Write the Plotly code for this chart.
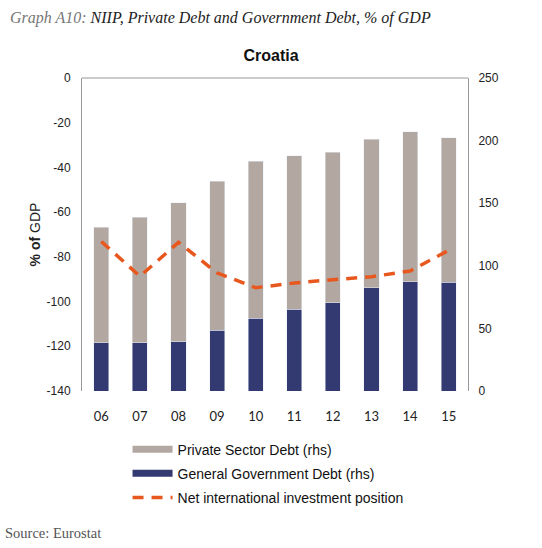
import plotly.graph_objects as go

years = ['06', '07', '08', '09', '10', '11', '12', '13', '14', '15']
gov_debt = [38.6, 38.6, 39.4, 48.7, 58.0, 65.2, 70.5, 82.3, 87.1, 86.8]
private_debt = [92.2, 100.1, 110.8, 118.8, 125.7, 122.8, 120.1, 118.7, 119.8, 115.3]
niip = [-73.1, -88.7, -73.5, -87.2, -93.8, -91.7, -90.2, -88.9, -86.3, -77.1]
left_ticks = [0, -20, -40, -60, -80, -100, -120, -140]
left_labels = ['0', '-20', '-40', '-60', '-80', '-100', '-120', '-140']

grey = '#B2A8A1'
navy = '#333A72'
orange = '#E8581E'
sans = 'Liberation Sans, Arial, sans-serif'
serif = 'Liberation Serif, Times New Roman, serif'

fig = go.Figure()

# stacked bars on the right-hand axis (primary y), line on the left axis overlaid on top
fig.add_trace(go.Bar(x=years, y=gov_debt, marker_color=navy, yaxis='y',
                     showlegend=False, name='General Government Debt (rhs)'))
fig.add_trace(go.Bar(x=years, y=private_debt, marker_color=grey, yaxis='y',
                     showlegend=False, name='Private Sector Debt (rhs)'))
fig.add_trace(go.Scatter(x=years, y=niip, mode='lines', yaxis='y2', showlegend=False,
                         line=dict(color=orange, width=3.5, dash='11px,8px'),
                         name='Net international investment position'))

# legend swatches
fig.add_trace(go.Scatter(x=[None], y=[None], mode='lines', name='Private Sector Debt (rhs)',
                         legendgroup='a', line=dict(color=grey, width=7)))
fig.add_trace(go.Scatter(x=[None], y=[None], mode='lines', name='General Government Debt (rhs)',
                         legendgroup='b', line=dict(color=navy, width=7)))
fig.add_trace(go.Scatter(x=[None], y=[None], mode='lines', name='Net international investment position',
                         legendgroup='c', line=dict(color=orange, width=3.5, dash='11px,8px')))

fig.update_layout(
    width=542, height=548,
    margin=dict(l=82, r=74, t=78, b=157),
    paper_bgcolor='white', plot_bgcolor='white',
    barmode='stack', bargap=0.61,
    font=dict(family=sans, size=12, color='#222222'),
    title=dict(text='<b>Croatia</b>', x=0.5, xanchor='center', y=1 - 55 / 548, yanchor='middle',
               font=dict(family=sans, size=16, color='#111111')),
    xaxis=dict(showline=False, showgrid=False, ticks='', automargin=False,
               tickfont=dict(family='Lato, Carlito, sans-serif', size=13), ticklabelstandoff=16),
    yaxis=dict(range=[0, 250], dtick=50, side='right', showgrid=False, zeroline=False,
               showline=True, linecolor='#999999', linewidth=1, ticks='', ticklabelstandoff=7,
               automargin=False),
    yaxis2=dict(range=[-140, 0], tickvals=left_ticks, ticktext=left_labels, overlaying='y', side='left',
                showgrid=False, zeroline=False, showline=True, linecolor='#999999', linewidth=1,
                ticks='', ticklabelstandoff=8, automargin=False,
                title=dict(text='<b>% of</b> GDP', font=dict(family=sans, size=14), standoff=2)),
    legend=dict(orientation='v', x=0.118, y=-0.136, xanchor='left', yanchor='top', traceorder='grouped',
                font=dict(family=sans, size=14, color='#111111'), tracegroupgap=3,
                itemwidth=40),
    shapes=[dict(type='line', xref='paper', yref='paper', x0=0, x1=1, y0=1, y1=1,
                 line=dict(color='#999999', width=1))],
    annotations=[
        dict(text='<i><span style="color:#777777">Graph A10:</span> NIIP, Private Debt and Government Debt, % of GDP</i>',
             xref='paper', yref='paper', x=-0.192, y=(391 - 18) / 313, xanchor='left', yanchor='middle',
             showarrow=False, font=dict(family=serif, size=16, color='#222222')),
        dict(text='Source: Eurostat', xref='paper', yref='paper', x=-0.205, y=(391 - 533) / 313,
             xanchor='left', yanchor='middle', showarrow=False,
             font=dict(family=serif, size=14.5, color='#555555')),
    ],
)

fig.write_html('out.html', config={'displayModeBar': False},
               post_script="document.body.style.margin='0px';")
